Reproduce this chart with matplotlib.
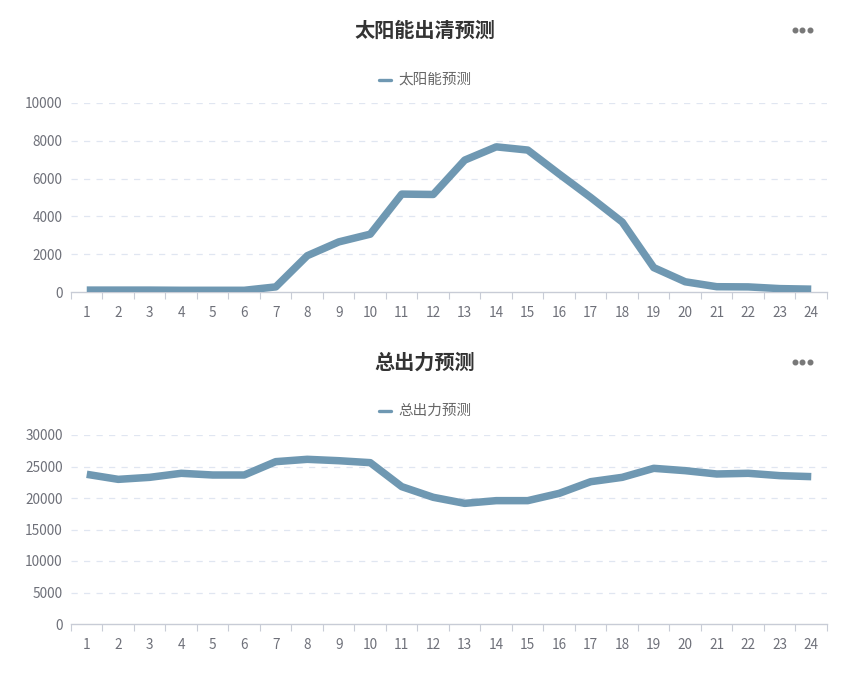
"""
太阳能出清预测 / 总出力预测 两个折线图。
"""
import matplotlib
matplotlib.use('Agg')
import matplotlib.pyplot as plt
from matplotlib.lines import Line2D

plt.rcParams['font.family'] = ['Noto Sans CJK SC', 'DejaVu Sans']

# 数据
hours = [str(h) for h in range(1, 25)]
solar_forecast = [100, 100, 100, 90, 90, 90, 270, 1920, 2650, 3060, 5180, 5160,
                  6980, 7680, 7510, 6240, 5000, 3700, 1290, 540, 280, 270, 180, 150]
total_forecast = [23760, 22960, 23280, 23920, 23650, 23650, 25770, 26140, 25920,
                  25610, 21800, 20110, 19150, 19580, 19580, 20740, 22590, 23280,
                  24710, 24340, 23810, 23920, 23550, 23390]

solar_ticks = [0, 2000, 4000, 6000, 8000, 10000]
total_ticks = [0, 5000, 10000, 15000, 20000, 25000, 30000]

W, H = 854, 679
LINE_COLOR = '#6f98b2'
AXIS_COLOR = '#c8ccd6'
GRID_COLOR = '#e0e6f1'
LABEL_COLOR = '#6e7079'
TITLE_COLOR = '#333333'


def px_axes(fig, left, top, right, bottom):
    """Crea ejes a partir de coordenadas en píxeles."""
    return fig.add_axes([left / W, 1 - bottom / H, (right - left) / W, (bottom - top) / H])


def draw_panel(fig, title, legend_label, values, yticks, top, bottom, title_y, legend_y):
    ax = px_axes(fig, 71, top, 827, bottom)
    x = list(range(len(hours)))
    ax.plot(x, values, color=LINE_COLOR, linewidth=5.4, solid_joinstyle='round',
            solid_capstyle='butt', zorder=3)
    ax.set_xlim(-0.5, len(hours) - 0.5)
    ax.set_ylim(yticks[0], yticks[-1])

    ax.set_yticks(yticks)
    ax.set_yticklabels([str(t) for t in yticks])
    ax.set_xticks(x)
    ax.set_xticklabels(hours)
    ax.set_xticks([i - 0.5 for i in range(len(hours) + 1)], minor=True)
    ax.tick_params(axis='x', which='major', length=0, pad=10, labelsize=9.8,
                   labelcolor=LABEL_COLOR)
    ax.tick_params(axis='x', which='minor', length=5, width=0.8, color=AXIS_COLOR,
                   direction='out')
    ax.tick_params(axis='y', length=0, pad=6, labelsize=9.8, labelcolor=LABEL_COLOR)

    for t in yticks[1:]:
        ax.axhline(t, color=GRID_COLOR, linewidth=0.9, linestyle=(0, (5, 5)), zorder=1)

    for side in ['top', 'right', 'left']:
        ax.spines[side].set_visible(False)
    ax.spines['bottom'].set_color(AXIS_COLOR)
    ax.spines['bottom'].set_linewidth(1.0)

    # Título y leyenda
    fig.text(425 / W, 1 - title_y / H, title, ha='center', va='center', fontsize=14.5,
             fontweight='bold', color=TITLE_COLOR)
    ly = 1 - legend_y / H
    fig.add_artist(Line2D([379 / W, 391 / W], [ly, ly], color=LINE_COLOR, linewidth=2.4,
                          solid_capstyle='round'))
    fig.text(398 / W, ly, legend_label, ha='left', va='center', fontsize=10.5,
             color='#666666')

    # Icono "..."
    dy = 1 - title_y / H
    fig.add_artist(Line2D([795 / W, 802.5 / W, 810 / W], [dy, dy, dy], linestyle='none',
                          marker='o', markersize=3.3, color='#787878'))
    return ax


fig = plt.figure(figsize=(W / 100, H / 100), dpi=100)
fig.patch.set_facecolor('white')

draw_panel(fig, '太阳能出清预测', '太阳能预测', solar_forecast, solar_ticks,
           103, 292, 30, 80)
draw_panel(fig, '总出力预测', '总出力预测', total_forecast, total_ticks,
           435, 624, 362, 411)

fig.savefig('out.png', dpi=100, facecolor='white')
